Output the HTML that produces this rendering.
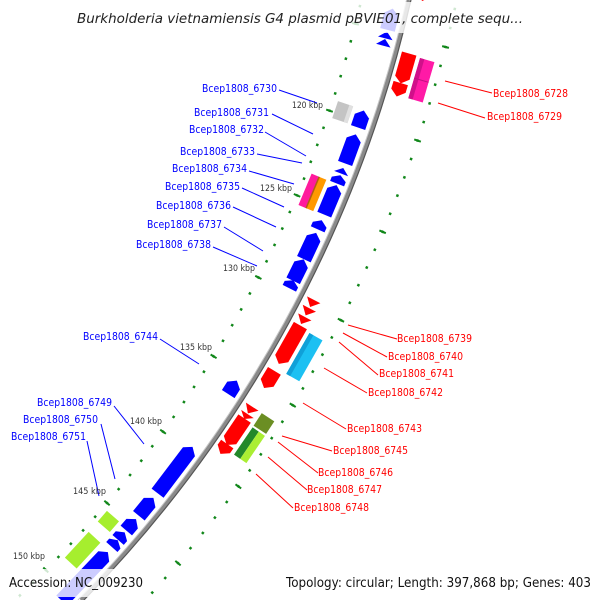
<!DOCTYPE html>
<html><head><meta charset="utf-8"><style>
html,body{margin:0;padding:0;background:#fff;width:600px;height:600px;overflow:hidden;}
svg{display:block;overflow:hidden;}
text{font-family:"DejaVu Sans","Liberation Sans",sans-serif;}
</style></head><body>
<svg width="600" height="600" viewBox="0 0 600 600" xmlns="http://www.w3.org/2000/svg">
<rect width="600" height="600" fill="#fff"/>
<g fill="none" stroke="#11871a">
<path d="M361.37 0 A1209 1209 0 0 1 15.08 600" stroke-width="2.5" stroke-dasharray="2.5 15.647" stroke-dashoffset="-5.08"/>
<path d="M361.37 0 A1209 1209 0 0 1 15.08 600" stroke-width="7" stroke-dasharray="2 88.735" stroke-dashoffset="-23.47"/>
<path d="M456.75 0 A1302 1302 0 0 1 145.51 600" stroke-width="2.5" stroke-dasharray="2.5 17.043" stroke-dashoffset="-7.97"/>
<path d="M456.75 0 A1302 1302 0 0 1 145.51 600" stroke-width="7" stroke-dasharray="2 95.715" stroke-dashoffset="-47.31"/>
</g>
<path d="M408.6 0 A1255 1255 0 0 1 80.76 600" fill="none" stroke="#8a8a8a" stroke-width="4.5"/>
<path d="M410.96 0 A1257.3 1257.3 0 0 1 83.97 600" fill="none" stroke="#555" stroke-width="1.2"/>
<path d="M406.54 0 A1253 1253 0 0 1 77.95 600" fill="none" stroke="#c8c8c8" stroke-width="1"/>

<g fill="#0000ff">
<path transform="translate(-815 -279) rotate(103.9) translate(0 -1241.5)" d="M-11 0 L-5 -7.5 L11 -7.5 L11 7.5 L-5 7.5Z"/>
<path transform="translate(-815 -279) rotate(104.65) translate(0 -1241.5)" d="M-3.5 0 L3.5 -7.5 L3.5 7.5Z"/>
<path transform="translate(-815 -279) rotate(105.0) translate(0 -1241.5)" d="M-3.5 0 L3.5 -7.5 L3.5 7.5Z"/>
<path transform="translate(-815 -279) rotate(108.7) translate(0 -1241.5)" d="M-9 0 L-3 -7.5 L9 -7.5 L9 7.5 L-3 7.5Z"/>
<path transform="translate(-815 -279) rotate(110.16) translate(0 -1241.5)" d="M-15.5 0 L-9.5 -7.5 L15.5 -7.5 L15.5 7.5 L-9.5 7.5Z"/>
<path transform="translate(-815 -279) rotate(111.24) translate(0 -1241.5)" d="M-3 0 L3 -7.5 L3 7.5Z"/>
<path transform="translate(-815 -279) rotate(111.67) translate(0 -1241.5)" d="M-4.5 0 L0 -7.5 L4.5 -7.5 L4.5 7.5 L0 7.5Z"/>
<path transform="translate(-815 -279) rotate(112.69) translate(0 -1241.5)" d="M-16 0 L-10 -7.5 L16 -7.5 L16 7.5 L-10 7.5Z"/>
<path transform="translate(-815 -279) rotate(113.94) translate(0 -1241.5)" d="M-5 0 L0 -7.5 L5 -7.5 L5 7.5 L0 7.5Z"/>
<path transform="translate(-815 -279) rotate(115.02) translate(0 -1241.5)" d="M-14.5 0 L-8.5 -7.5 L14.5 -7.5 L14.5 7.5 L-8.5 7.5Z"/>
<path transform="translate(-815 -279) rotate(116.25) translate(0 -1241.5)" d="M-12 0 L-6 -7.5 L12 -7.5 L12 7.5 L-6 7.5Z"/>
<path transform="translate(-815 -279) rotate(116.98) translate(0 -1241.5)" d="M-4.5 0 L0 -7.5 L4.5 -7.5 L4.5 7.5 L0 7.5Z"/>
<path transform="translate(-815 -279) rotate(122.46) translate(0 -1241.5)" d="M-8 0 L-2 -7.5 L8 -7.5 L8 7.5 L-2 7.5Z"/>
<path transform="translate(-815 -279) rotate(127.11) translate(0 -1241.5)" d="M-29 0 L-23 -7.5 L29 -7.5 L29 7.5 L-23 7.5Z"/>
<path transform="translate(-815 -279) rotate(129.27) translate(0 -1241.5)" d="M-11.5 0 L-5.5 -7.5 L11.5 -7.5 L11.5 7.5 L-5.5 7.5Z"/>
<path transform="translate(-815 -279) rotate(130.35) translate(0 -1241.5)" d="M-7.5 0 L-1.5 -7.5 L7.5 -7.5 L7.5 7.5 L-1.5 7.5Z"/>
<path transform="translate(-815 -279) rotate(131.04) translate(0 -1241.5)" d="M-5 0 L0 -7.5 L5 -7.5 L5 7.5 L0 7.5Z"/>
<path transform="translate(-815 -279) rotate(131.5) translate(0 -1241.5)" d="M-4.5 0 L0 -7.5 L4.5 -7.5 L4.5 7.5 L0 7.5Z"/>
<path transform="translate(-815 -279) rotate(133.55) translate(0 -1241.5)" d="M-33.5 0 L-27.5 -7.5 L33.5 -7.5 L33.5 7.5 L-27.5 7.5Z"/>
</g>

<g fill="#ff0000">
<path transform="translate(-815 -279) rotate(102.3) translate(0 -1268.5)" d="M-10 -7.5 L4 -7.5 L10 0 L4 7.5 L-10 7.5Z"/>
<path transform="translate(-815 -279) rotate(105.9) translate(0 -1268.5)" d="M-15.5 -7.5 L9.5 -7.5 L15.5 0 L9.5 7.5 L-15.5 7.5Z"/>
<path transform="translate(-815 -279) rotate(106.9) translate(0 -1268.5)" d="M-7 -7.5 L1 -7.5 L7 0 L1 7.5 L-7 7.5Z"/>
<path transform="translate(-815 -279) rotate(117.33) translate(0 -1268.5)" d="M-4 -7.5 L4 0 L-4 7.5Z"/>
<path transform="translate(-815 -279) rotate(117.76) translate(0 -1268.5)" d="M-4 -7.5 L4 0 L-4 7.5Z"/>
<path transform="translate(-815 -279) rotate(118.2) translate(0 -1268.5)" d="M-4 -7.5 L4 0 L-4 7.5Z"/>
<path transform="translate(-815 -279) rotate(119.45) translate(0 -1268.5)" d="M-22 -7.5 L16 -7.5 L22 0 L16 7.5 L-22 7.5Z"/>
<path transform="translate(-815 -279) rotate(121.27) translate(0 -1268.5)" d="M-10 -7.5 L4 -7.5 L10 0 L4 7.5 L-10 7.5Z"/>
<path transform="translate(-815 -279) rotate(122.9) translate(0 -1268.5)" d="M-4 -7.5 L4 0 L-4 7.5Z"/>
<path transform="translate(-815 -279) rotate(123.25) translate(0 -1268.5)" d="M-3 -7.5 L3 0 L-3 7.5Z"/>
<path transform="translate(-815 -279) rotate(124.08) translate(0 -1268.5)" d="M-16 -7.5 L10 -7.5 L16 0 L10 7.5 L-16 7.5Z"/>
<path transform="translate(-815 -279) rotate(125.02) translate(0 -1268.5)" d="M-6 -7.5 L0 -7.5 L6 0 L0 7.5 L-6 7.5Z"/>
</g>

<g transform="translate(-815 -279) rotate(108.67) translate(0 -1222)"><rect x="-9" y="-8" width="18" height="16" fill="#c4c4c4"/><rect x="-9" y="-8" width="18" height="4" fill="#e0e0e0"/></g>
<g transform="translate(-815 -279) rotate(112.69) translate(0 -1222)"><rect x="-17" y="0" width="34" height="8" fill="#ff1a9c"/><rect x="-17" y="-8" width="34" height="8" fill="#ff9900"/><rect x="-17" y="-1" width="34" height="1.5" fill="#b06010"/></g>
<g transform="translate(-815 -279) rotate(130.92) translate(0 -1222)"><rect x="-7" y="-8" width="14" height="16" fill="#a6ee2e"/></g>
<g transform="translate(-815 -279) rotate(132.73) translate(0 -1222)"><rect x="-17.5" y="-8" width="35" height="16" fill="#a6ee2e"/></g>

<g transform="translate(-815 -279) rotate(106.2) translate(0 -1287.5)"><rect x="-21" y="-7.5" width="42" height="15" fill="#ff1aa6"/><rect x="-21" y="3" width="42" height="4.5" fill="#d0108a"/><rect x="-0.5" y="-7.5" width="1" height="15" fill="#c01080"/></g>
<g transform="translate(-815 -279) rotate(119.61) translate(0 -1287.5)"><rect x="-23.5" y="-7.5" width="47" height="15" fill="#1cc0f2"/><rect x="-23.5" y="3" width="47" height="4.5" fill="#10a0d8"/></g>
<g transform="translate(-815 -279) rotate(123.07) translate(0 -1287.5)"><rect x="-7.5" y="-7.5" width="15" height="15" fill="#6b8e23"/></g>
<g transform="translate(-815 -279) rotate(124.23) translate(0 -1287.5)"><rect x="-16.5" y="0" width="33" height="7.5" fill="#23882a"/><rect x="-16.5" y="-7.5" width="33" height="7.5" fill="#aaee33"/></g>

<g stroke="#0000ff" stroke-width="1" fill="none">
<line x1="279" y1="90" x2="317" y2="103"/>
<line x1="272" y1="114" x2="313" y2="134"/>
<line x1="265" y1="132" x2="306" y2="156"/>
<line x1="257" y1="154" x2="302" y2="163"/>
<line x1="249" y1="171" x2="294" y2="184"/>
<line x1="242" y1="188" x2="284" y2="207"/>
<line x1="233" y1="207" x2="276" y2="227"/>
<line x1="224" y1="227" x2="263" y2="251"/>
<line x1="213" y1="247" x2="257" y2="266"/>
<line x1="160" y1="339" x2="199" y2="364"/>
<line x1="114" y1="406" x2="144" y2="444"/>
<line x1="101" y1="424" x2="115" y2="479"/>
<line x1="87" y1="441" x2="99" y2="496"/>
</g>
<g stroke="#ff0000" stroke-width="1" fill="none">
<line x1="445" y1="81" x2="492" y2="93"/>
<line x1="438" y1="103" x2="485" y2="118"/>
<line x1="348" y1="325" x2="397" y2="339"/>
<line x1="343" y1="333" x2="387" y2="357"/>
<line x1="339" y1="342" x2="378" y2="375"/>
<line x1="324" y1="368" x2="367" y2="393"/>
<line x1="303" y1="403" x2="346" y2="429"/>
<line x1="282" y1="436" x2="332" y2="451"/>
<line x1="278" y1="442" x2="318" y2="473"/>
<line x1="268" y1="457" x2="307" y2="490"/>
<line x1="256" y1="474" x2="293" y2="508"/>
</g>

<g fill="#0000ff" font-size="11">
<text x="202" y="92" textLength="75" lengthAdjust="spacingAndGlyphs">Bcep1808_6730</text>
<text x="194" y="116" textLength="75" lengthAdjust="spacingAndGlyphs">Bcep1808_6731</text>
<text x="189" y="133" textLength="75" lengthAdjust="spacingAndGlyphs">Bcep1808_6732</text>
<text x="180" y="155" textLength="75" lengthAdjust="spacingAndGlyphs">Bcep1808_6733</text>
<text x="172" y="172" textLength="75" lengthAdjust="spacingAndGlyphs">Bcep1808_6734</text>
<text x="165" y="190" textLength="75" lengthAdjust="spacingAndGlyphs">Bcep1808_6735</text>
<text x="156" y="209" textLength="75" lengthAdjust="spacingAndGlyphs">Bcep1808_6736</text>
<text x="147" y="228" textLength="75" lengthAdjust="spacingAndGlyphs">Bcep1808_6737</text>
<text x="136" y="248" textLength="75" lengthAdjust="spacingAndGlyphs">Bcep1808_6738</text>
<text x="83" y="340" textLength="75" lengthAdjust="spacingAndGlyphs">Bcep1808_6744</text>
<text x="37" y="406" textLength="75" lengthAdjust="spacingAndGlyphs">Bcep1808_6749</text>
<text x="23" y="423" textLength="75" lengthAdjust="spacingAndGlyphs">Bcep1808_6750</text>
<text x="11" y="440" textLength="75" lengthAdjust="spacingAndGlyphs">Bcep1808_6751</text>
</g>
<g fill="#ff0000" font-size="11">
<text x="493" y="97" textLength="75" lengthAdjust="spacingAndGlyphs">Bcep1808_6728</text>
<text x="487" y="120" textLength="75" lengthAdjust="spacingAndGlyphs">Bcep1808_6729</text>
<text x="397" y="342" textLength="75" lengthAdjust="spacingAndGlyphs">Bcep1808_6739</text>
<text x="388" y="360" textLength="75" lengthAdjust="spacingAndGlyphs">Bcep1808_6740</text>
<text x="379" y="377" textLength="75" lengthAdjust="spacingAndGlyphs">Bcep1808_6741</text>
<text x="368" y="396" textLength="75" lengthAdjust="spacingAndGlyphs">Bcep1808_6742</text>
<text x="347" y="432" textLength="75" lengthAdjust="spacingAndGlyphs">Bcep1808_6743</text>
<text x="333" y="454" textLength="75" lengthAdjust="spacingAndGlyphs">Bcep1808_6745</text>
<text x="318" y="476" textLength="75" lengthAdjust="spacingAndGlyphs">Bcep1808_6746</text>
<text x="307" y="493" textLength="75" lengthAdjust="spacingAndGlyphs">Bcep1808_6747</text>
<text x="294" y="511" textLength="75" lengthAdjust="spacingAndGlyphs">Bcep1808_6748</text>
</g>
<g fill="#333" font-size="9">
<text x="292" y="108" textLength="31" lengthAdjust="spacingAndGlyphs">120 kbp</text>
<text x="260" y="191" textLength="32" lengthAdjust="spacingAndGlyphs">125 kbp</text>
<text x="223" y="271" textLength="32" lengthAdjust="spacingAndGlyphs">130 kbp</text>
<text x="180" y="350" textLength="32" lengthAdjust="spacingAndGlyphs">135 kbp</text>
<text x="130" y="424" textLength="32" lengthAdjust="spacingAndGlyphs">140 kbp</text>
<text x="73" y="494" textLength="33" lengthAdjust="spacingAndGlyphs">145 kbp</text>
<text x="13" y="559" textLength="32" lengthAdjust="spacingAndGlyphs">150 kbp</text>
</g>

<rect x="72" y="2" width="458" height="31" fill="#fff" fill-opacity="0.8"/>
<rect x="4" y="569" width="144" height="28" fill="#fff" fill-opacity="0.8"/>
<rect x="282" y="569" width="314" height="28" fill="#fff" fill-opacity="0.8"/>

<text x="77" y="23" font-size="13" font-style="italic" fill="#222" textLength="446" lengthAdjust="spacingAndGlyphs">Burkholderia vietnamiensis G4 plasmid pBVIE01, complete sequ...</text>
<text x="9" y="587" font-size="13" fill="#111" textLength="134" lengthAdjust="spacingAndGlyphs">Accession: NC_009230</text>
<text x="286" y="587" font-size="13" fill="#111" textLength="305" lengthAdjust="spacingAndGlyphs">Topology: circular; Length: 397,868 bp; Genes: 403</text>
</svg>
</body></html>
